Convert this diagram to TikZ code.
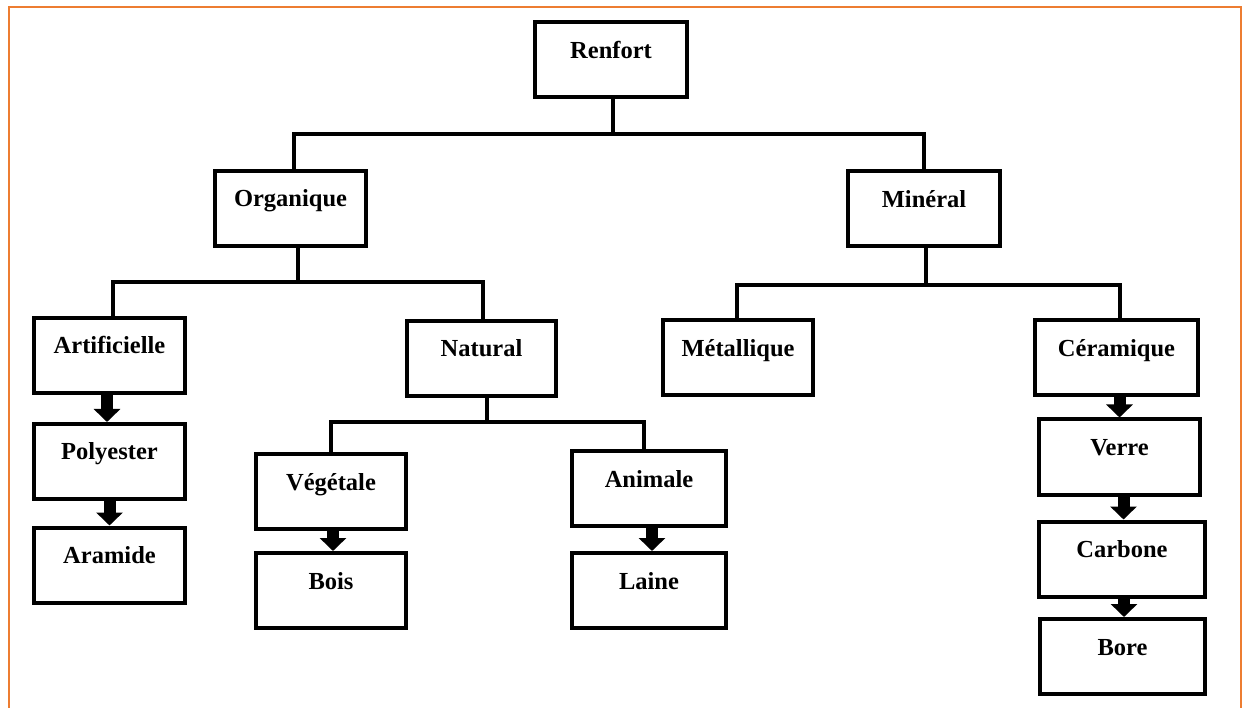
\documentclass[tikz,border=0pt]{standalone}
\usepackage{fontspec}
\setmainfont{Liberation Serif}
\usetikzlibrary{arrows.meta}
\definecolor{frameorange}{RGB}{237,125,49}
\begin{document}
\begin{tikzpicture}[x=1pt,y=-1pt,
  box/.style={draw=black, line width=4pt, inner xsep=0pt, inner ysep=0pt,
    text height=36pt, text depth=39pt, align=center,
    font=\fontsize{24.5}{29}\selectfont\bfseries},
  conn/.style={line width=4pt, line cap=rect},
  blk/.style={line width=12pt, -{Triangle[length=13pt,width=26pt]}},
  frame/.style={draw=frameorange, line width=2pt}]
\useasboundingbox (0,0) rectangle (1248,708);
\draw[frame] (9,708) -- (9,7) -- (1241,7) -- (1241,708);

% nodes
\node[box, minimum width=152pt] (renfort) at (611,60) {Renfort};
\node[box, minimum width=151pt] (org) at (290.5,208.5) {Organique};
\node[box, minimum width=152pt] (min) at (924,209) {Minéral};
\node[box, minimum width=151pt] (art) at (109.5,355.5) {Artificielle};
\node[box, minimum width=149pt] (nat) at (481.5,358.5) {Natural};
\node[box, minimum width=150pt] (met) at (738,358) {Métallique};
\node[box, minimum width=163pt] (cer) at (1116.5,358) {Céramique};
\node[box, minimum width=151pt] (poly) at (109.5,461.5) {Polyester};
\node[box, minimum width=151pt] (ara) at (109.5,565) {Aramide};
\node[box, minimum width=150pt] (veg) at (331,491.5) {Végétale};
\node[box, minimum width=154pt] (ani) at (649,488.5) {Animale};
\node[box, minimum width=150pt] (bois) at (331,590.5) {Bois};
\node[box, minimum width=154pt] (laine) at (649,590.5) {Laine};
\node[box, minimum width=161pt] (verre) at (1119.5,457) {Verre};
\node[box, minimum width=166pt] (carb) at (1122,559) {Carbone};
\node[box, minimum width=165pt] (bore) at (1122.5,656.5) {Bore};

% junctions
\coordinate (j0) at (613,134);
\coordinate (j1) at (298,282);
\coordinate (j2) at (487,422);
\coordinate (j3) at (926,285);

% tree connectors
\draw[conn] ([xshift=2pt]renfort.south) -- (j0);
\draw[conn] (j0) -| ([xshift=3.5pt]org.north);
\draw[conn] (j0) -| (min.north);
\draw[conn] ([xshift=7.5pt]org.south) -- (j1);
\draw[conn] (j1) -| ([xshift=3.5pt]art.north);
\draw[conn] (j1) -| ([xshift=1.5pt]nat.north);
\draw[conn] ([xshift=5.5pt]nat.south) -- (j2);
\draw[conn] (j2) -| (veg.north);
\draw[conn] (j2) -| ([xshift=-5pt]ani.north);
\draw[conn] ([xshift=2pt]min.south) -- (j3);
\draw[conn] (j3) -| ([xshift=-1pt]met.north);
\draw[conn] (j3) -| ([xshift=3.5pt]cer.north);

% block arrows
\draw[blk] ([xshift=-2.5pt]art.south) -- ([xshift=-2.5pt]poly.north);
\draw[blk] (poly.south) -- (ara.north);
\draw[blk] ([xshift=2pt]veg.south) -- ([xshift=2pt]bois.north);
\draw[blk] ([xshift=3pt]ani.south) -- ([xshift=3pt]laine.north);
\draw[blk] (cer.south -| verre.north) -- (verre.north);
\draw[blk] ([xshift=4pt]verre.south) -- ([xshift=4pt]verre.south |- carb.north);
\draw[blk] ([xshift=2pt]carb.south) -- ([xshift=2pt]carb.south |- bore.north);
\end{tikzpicture}
\end{document}
